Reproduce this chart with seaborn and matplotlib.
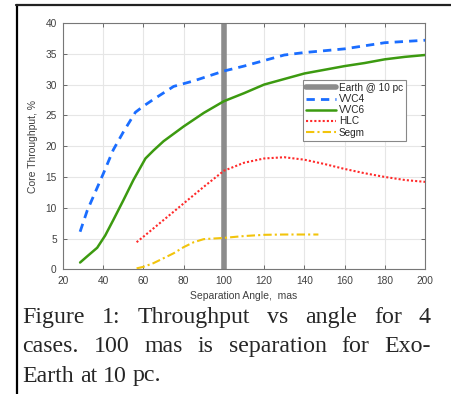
import numpy as np
import pandas as pd
import matplotlib
matplotlib.use("Agg")
import matplotlib.pyplot as plt
import seaborn as sns

# curvas (angulo em mas, throughput em %)
x_vvc4 = [28.5, 32, 36, 40, 45, 50, 56, 60, 65, 75, 85, 100, 110, 120, 130, 140, 150, 160, 170, 180, 190, 200]
y_vvc4 = [6.1, 9.5, 12.5, 15.5, 19.4, 22.3, 25.5, 26.5, 27.6, 29.7, 30.6, 32.2, 33.0, 33.9, 34.8, 35.2, 35.5, 35.8, 36.3, 36.8, 37.0, 37.2]

x_vvc6 = [28.5, 32, 37, 41, 45, 50, 55, 61, 65, 70, 80, 90, 100, 110, 120, 130, 140, 150, 160, 170, 180, 190, 200]
y_vvc6 = [1.1, 2.1, 3.5, 5.5, 8.0, 11.2, 14.5, 18.0, 19.3, 20.8, 23.2, 25.4, 27.3, 28.6, 30.0, 30.9, 31.8, 32.4, 33.0, 33.5, 34.1, 34.5, 34.8]

x_hlc = [56.6, 60, 70, 80, 90, 100, 110, 120, 130, 140, 150, 160, 170, 180, 190, 200]
y_hlc = [4.4, 5.3, 8.0, 10.7, 13.4, 16.0, 17.3, 18.0, 18.2, 17.8, 17.1, 16.3, 15.6, 15.0, 14.5, 14.2]

x_segm = [56.6, 60, 65, 70, 75, 80, 85, 90, 95, 100, 110, 120, 130, 140, 147]
y_segm = [0.15, 0.4, 1.0, 1.8, 2.6, 3.6, 4.4, 4.9, 5.0, 5.1, 5.4, 5.6, 5.65, 5.65, 5.65]

earth_sep = 100

caption = ["Figure 1: Throughput vs angle for 4",
           "cases. 100 mas is separation for Exo-",
           "Earth at 10 pc."]

sns.set_style("whitegrid")
plt.rcParams['font.family'] = ['Liberation Sans', 'DejaVu Sans']

fig = plt.figure(figsize=(4.51, 3.94), dpi=100)
ax = fig.add_axes([63 / 451, 1 - 269.3 / 394, 362 / 451, 246.3 / 394])

ax.axvline(earth_sep, color='#8c8c8c', lw=4, label='Earth @ 10 pc', zorder=2)
sns.lineplot(x=x_vvc4, y=y_vvc4, ax=ax, color='#1a6dff', lw=2, label='VVC4', zorder=3)
ax.lines[-1].set_linestyle((0, (3, 2.2)))
sns.lineplot(x=x_vvc6, y=y_vvc6, ax=ax, color='#3c9a10', lw=1.8, label='VVC6', zorder=3)
sns.lineplot(x=x_hlc, y=y_hlc, ax=ax, color='#ff2a2a', lw=1.5, label='HLC', zorder=3)
ax.lines[-1].set_linestyle((0, (1, 1)))
sns.lineplot(x=x_segm, y=y_segm, ax=ax, color='#f2c40c', lw=1.5, label='Segm', zorder=3)
ax.lines[-1].set_linestyle((0, (4, 1.5, 1, 1.5)))

ax.set_xlim(20, 200)
ax.set_ylim(0, 40)
ax.set_xticks(range(20, 201, 20))
ax.set_yticks(range(0, 41, 5))
ax.grid(True, color='#e6e6e6', lw=0.8)
ax.set_axisbelow(True)
ax.tick_params(axis='both', which='both', direction='in', length=3, width=0.6,
               colors='#555555', labelsize=7.3, labelcolor='#404040', pad=4.5,
               top=True, right=True, bottom=True, left=True)
for s in ax.spines.values():
    s.set_color('#777777')
    s.set_linewidth(0.8)

ax.set_xlabel('Separation Angle,  mas', fontsize=7.5, color='#404040', labelpad=4)
ax.set_ylabel('Core Throughput, %', fontsize=7.5, color='#404040', labelpad=5)

leg = ax.legend(loc='upper left', bbox_to_anchor=(0.663, 0.769), borderaxespad=0,
                fontsize=7.2, handlelength=3.0, labelspacing=0.12, handletextpad=0.3,
                borderpad=0.3, fancybox=False, framealpha=1, edgecolor='#888888')
leg.get_frame().set_linewidth(0.8)
for t in leg.get_texts():
    t.set_color('#262626')

# moldura da pagina
fig.add_artist(plt.Line2D([17 / 451, 17 / 451], [0, 1 - 4.5 / 394], transform=fig.transFigure,
                          color='black', lw=1.6))
fig.add_artist(plt.Line2D([16 / 451, 1], [1 - 4.5 / 394, 1 - 4.5 / 394], transform=fig.transFigure,
                          color='#222222', lw=1.6))

# legenda da figura, justificada
fig.canvas.draw()
renderer = fig.canvas.get_renderer()
left, right = 22.5, 431
baselines = [323, 352, 381.5]
for i, line in enumerate(caption):
    words = line.split(' ')
    ys = 1 - baselines[i] / 394
    texts = [fig.text(0, ys, w, family='Liberation Serif', fontsize=17.2, va='baseline')
             for w in words]
    widths = [t.get_window_extent(renderer).width for t in texts]
    if i < len(caption) - 1:
        gap = (right - left - sum(widths)) / (len(words) - 1)
    else:
        gap = renderer.points_to_pixels(17.2) * 0.25
    xpos = left
    for t, w in zip(texts, widths):
        t.set_x(xpos / 451)
        xpos += w + gap

fig.savefig('out.png', dpi=100)
